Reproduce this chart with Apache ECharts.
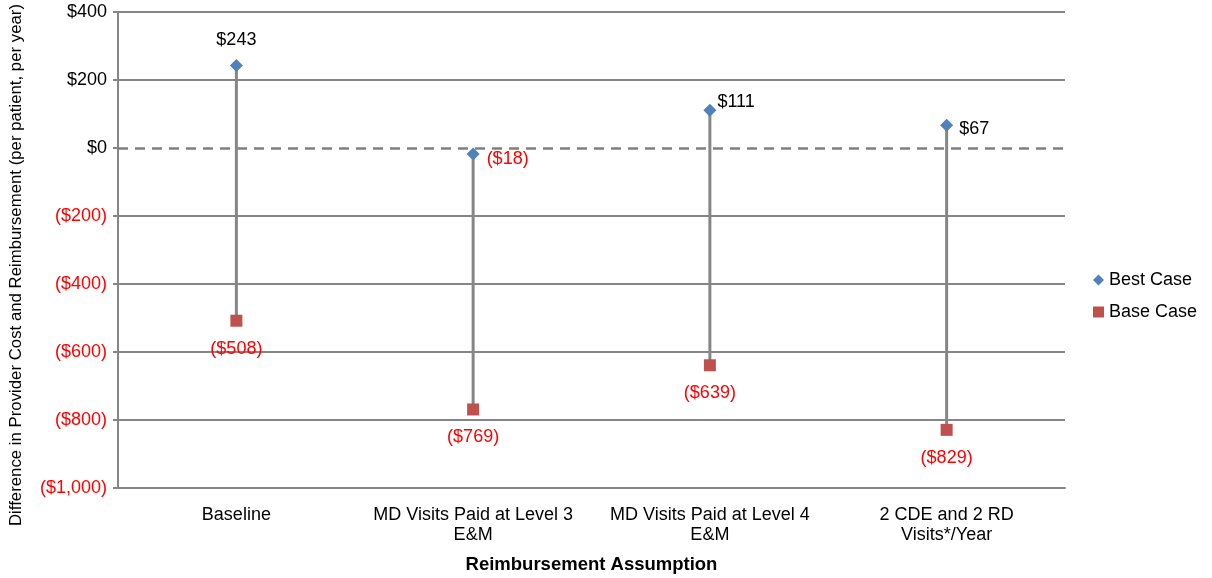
<!DOCTYPE html>
<html>
<head>
<meta charset="utf-8">
<script src="https://cdn.jsdelivr.net/npm/echarts@6/dist/echarts.min.js"></script>
<style>html,body{margin:0;padding:0;background:#fff}#c{width:1212px;height:578px}</style>
</head>
<body>
<div id="c"></div>
<script>
const categories = ['Baseline', 'MD Visits Paid at Level 3\nE&M', 'MD Visits Paid at Level 4\nE&M', '2 CDE and 2 RD\nVisits*/Year'];
const bestCase = [243, -18, 111, 67];
const baseCase = [-508, -769, -639, -829];
const yTicks = [-1000, -800, -600, -400, -200, 0, 200, 400];

function money(v) {
  const s = '$' + Math.abs(v).toLocaleString('en-US');
  return v < 0 ? '(' + s + ')' : s;
}
const FONT = '"Liberation Sans", Arial, sans-serif';
const GRAY = '#868686';
const bestLabelPos = [
  { position: 'top', distance: 10, offset: [0, 0] },
  { position: 'right', distance: 5, offset: [2, 5] },
  { position: 'right', distance: 5, offset: [-4, -8] },
  { position: 'right', distance: 5, offset: [1, 4] }
];

const chart = echarts.init(document.getElementById('c'));
chart.setOption({
  animation: false,
  textStyle: { fontFamily: FONT },
  grid: { left: 118, right: 147, top: 12, bottom: 90, outerBoundsMode: 'none', containLabel: false },
  legend: {
    orient: 'vertical', left: 1093, top: 271, itemGap: 14, padding: 0,
    itemWidth: 11, itemHeight: 11,
    textStyle: { fontSize: 18, color: '#000', fontFamily: FONT },
    data: [
      { name: 'Best Case', icon: 'diamond' },
      { name: 'Base Case', icon: 'rect' }
    ]
  },
  xAxis: {
    type: 'category', data: categories,
    name: 'Reimbursement Assumption', nameLocation: 'middle', nameGap: 67,
    nameTextStyle: { fontSize: 18.5, fontWeight: 'bold', color: '#000', fontFamily: FONT },
    axisLine: { onZero: false, lineStyle: { color: GRAY, width: 2 } },
    axisTick: { show: false },
    axisLabel: { fontSize: 18, color: '#000', margin: 17, lineHeight: 20, fontFamily: FONT, interval: 0 },
    splitLine: { show: false }
  },
  yAxis: {
    type: 'value', min: -1000, max: 400, interval: 200,
    name: 'Difference in Provider Cost and Reimbursement (per patient, per year)',
    nameLocation: 'middle', nameGap: 93,
    nameTextStyle: { fontSize: 16.8, color: '#000', fontFamily: FONT, padding: [0, 30, 0, 0] },
    axisLine: { show: true, lineStyle: { color: GRAY, width: 2 } },
    axisTick: { show: true, length: 5, lineStyle: { color: GRAY, width: 2 } },
    axisLabel: {
      fontSize: 18, margin: 11, fontFamily: FONT,
      formatter: v => money(v),
      color: v => (Number(v) < 0 ? '#FF0000' : '#000')
    },
    splitLine: { show: false }
  },
  series: [
    {
      type: 'custom', name: 'range', silent: true, z: 2,
      data: categories.map((c, i) => [i, bestCase[i], baseCase[i]]),
      renderItem: (params, api) => {
        const p1 = api.coord([api.value(0), api.value(1)]);
        const p2 = api.coord([api.value(0), api.value(2)]);
        return { type: 'line', shape: { x1: p1[0], y1: p1[1], x2: p2[0], y2: p2[1] },
          style: { stroke: GRAY, lineWidth: 3 } };
      },
      markLine: {
        silent: true, symbol: 'none', z: 1,
        label: { show: false },
        lineStyle: { color: GRAY, width: 2, type: 'solid', opacity: 1 },
        data: yTicks.filter(v => v !== -1000).map(v => ({
          yAxis: v,
          lineStyle: v === 0
            ? { color: '#808080', width: 2.5, type: [10, 7], opacity: 1 }
            : { color: GRAY, width: 2, type: 'solid', opacity: 1 }
        }))
      }
    },
    {
      type: 'scatter', name: 'Best Case', symbol: 'diamond', symbolSize: 13, z: 5,
      itemStyle: { color: '#4F81BD', opacity: 1 },
      data: bestCase.map((v, i) => ({
        value: v,
        label: Object.assign({
          show: true, fontSize: 18, fontFamily: FONT,
          color: v < 0 ? '#FF0000' : '#000',
          formatter: () => money(v)
        }, bestLabelPos[i])
      }))
    },
    {
      type: 'scatter', name: 'Base Case', symbol: 'rect', symbolSize: 12, z: 5,
      itemStyle: { color: '#C0504D', opacity: 1 },
      data: baseCase.map((v, i) => ({
        value: v,
        label: {
          show: true, fontSize: 18, fontFamily: FONT, position: 'bottom', distance: 13,
          color: '#FF0000', formatter: () => money(v)
        }
      }))
    }
  ]
});
</script>
</body>
</html>
